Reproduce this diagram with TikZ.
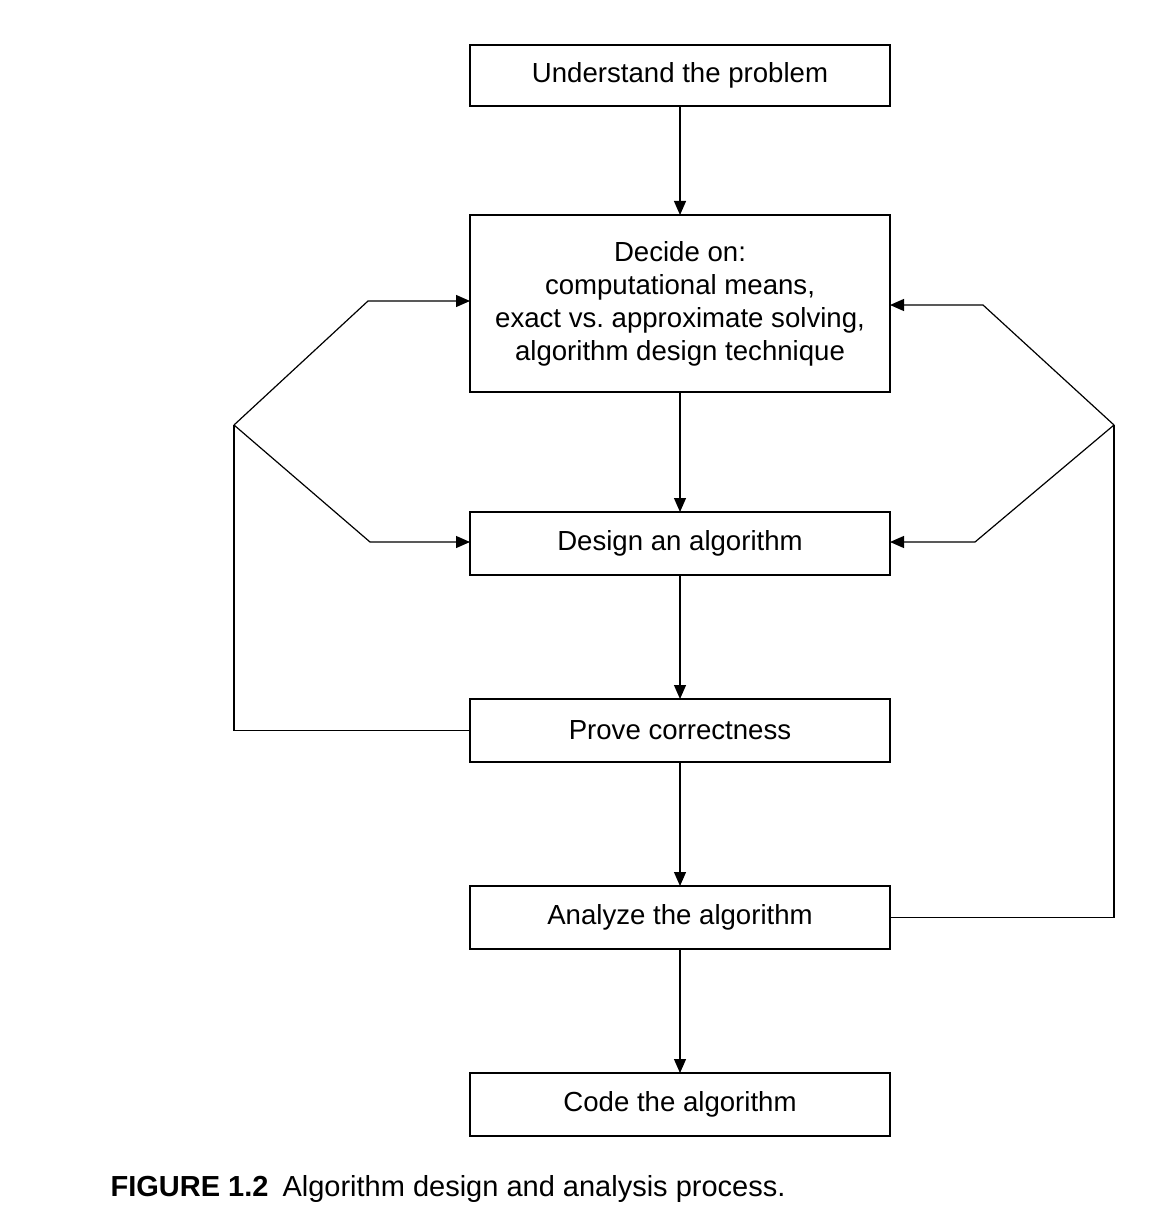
\documentclass[tikz,border=0pt]{standalone}
\usepackage{fontspec}
\setmainfont{Liberation Sans}
\usetikzlibrary{positioning, arrows.meta}
\tikzset{
    >={Triangle[length=7pt,width=6pt]},
    every picture/.style={line width=0.6pt}
}

\begin{document}
\frenchspacing
\begin{tikzpicture}[
    x=0.5pt, y=-0.5pt,
    node distance=62pt,
    every node/.style={font=\fontsize{13.8pt}{16.5pt}\selectfont},
    stepbox/.style={draw, minimum width=210pt, minimum height=31.5pt, align=center, inner sep=0pt, outer sep=0pt}
]
\useasboundingbox (0,0) rectangle (1176,1214);
\node[stepbox, minimum height=30.5pt] (understand) at (680,75.5) {Understand the problem};
\node[stepbox, minimum height=88.5pt] (decide) [below=54.5pt of understand] {Decide on:\\computational means,\\exact vs. approximate solving,\\algorithm design technique};
\node[stepbox] (design) [below=60pt of decide] {Design an algorithm};
\node[stepbox] (prove) [below=of design] {Prove correctness};
\node[stepbox] (analyze) [below=of prove] {Analyze the algorithm};
\node[stepbox] (code) [below=of analyze] {Code the algorithm};

% Main flow
\draw[->] (understand) -- (decide);
\draw[->] (decide) -- (design);
\draw[->] (design) -- (prove);
\draw[->] (prove) -- (analyze);
\draw[->] (analyze) -- (code);

% Feedback from correctness
\coordinate (lfork) at (234,425);
\coordinate (lup) at (368,301);
\coordinate (ldown) at (370,542);
\draw (prove.west) -| (lfork);
\draw[->] (lfork) -- (lup) -- (lup -| decide.west);
\draw[->] (lfork) -- (ldown) -- (ldown -| design.west);

% Feedback from analysis
\coordinate (rfork) at (1114,425);
\coordinate (rup) at (983,305);
\coordinate (rdown) at (975,542);
\draw (analyze.east) -| (rfork);
\draw[->] (rfork) -- (rup) -- (rup -| decide.east);
\draw[->] (rfork) -- (rdown) -- (rdown -| design.east);

\node[anchor=base west, inner sep=0pt, font=\fontsize{14.5pt}{17pt}\selectfont] (caption) at (110,1196) {\textbf{FIGURE 1.2}\hspace{7pt}Algorithm design and analysis process.};
\end{tikzpicture}
\end{document}
